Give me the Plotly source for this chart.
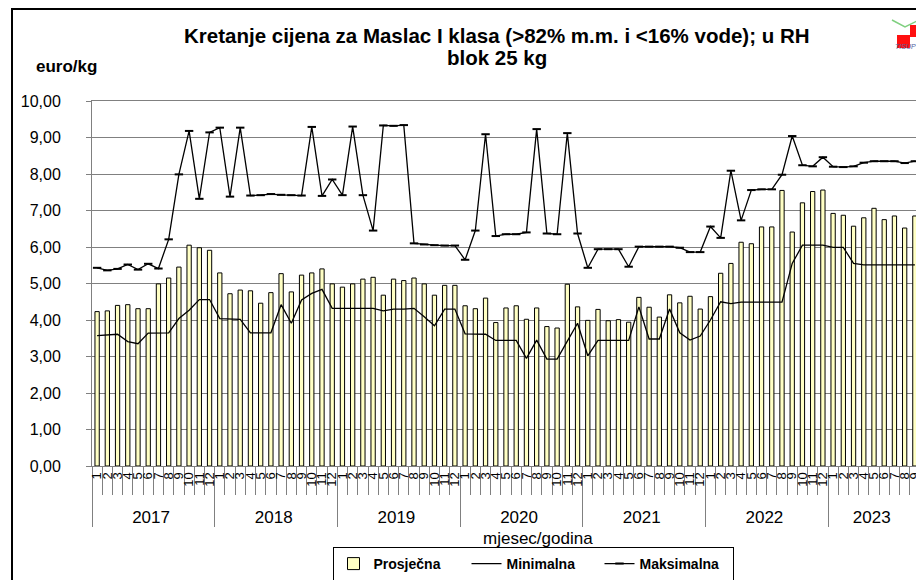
import plotly.graph_objects as go

years = ["2017"] * 12 + ["2018"] * 12 + ["2019"] * 12 + ["2020"] * 12 + ["2021"] * 12 + ["2022"] * 12 + ["2023"] * 9
months = [str(m) for m in range(1, 13)] * 6 + [str(m) for m in range(1, 10)]

prosjecna = [
    4.23, 4.25, 4.40, 4.42, 4.31, 4.31, 4.99, 5.15, 5.45, 6.05, 5.98, 5.91,
    5.29, 4.72, 4.82, 4.80, 4.46, 4.75, 5.27, 4.77, 5.23, 5.29, 5.40, 4.99,
    4.90, 4.99, 5.12, 5.17, 4.68, 5.12, 5.08, 5.15, 4.99, 4.68, 4.95, 4.95,
    4.39, 4.31, 4.60, 3.93, 4.33, 4.39, 4.02, 4.33, 3.82, 3.78, 4.98, 4.36,
    3.99, 4.29, 3.98, 4.01, 3.94, 4.62, 4.35, 4.08, 4.69, 4.47, 4.65, 4.30,
    4.64, 5.28, 5.55, 6.13, 6.09, 6.55, 6.55, 7.55, 6.41, 7.21, 7.52, 7.56,
    6.92, 6.87, 6.57, 6.80, 7.06, 6.75, 6.85, 6.52, 6.85,
]
minimalna = [
    3.57, 3.60, 3.61, 3.41, 3.35, 3.64, 3.64, 3.65, 4.04, 4.27, 4.56, 4.56,
    4.04, 4.04, 4.02, 3.65, 3.65, 3.65, 4.42, 3.91, 4.55, 4.73, 4.84, 4.32,
    4.32, 4.32, 4.32, 4.32, 4.25, 4.30, 4.30, 4.32, 4.09, 3.84, 4.30, 4.30,
    3.62, 3.62, 3.61, 3.44, 3.44, 3.44, 2.95, 3.45, 2.93, 2.93, 3.42, 3.91,
    3.02, 3.44, 3.44, 3.44, 3.44, 4.36, 3.48, 3.48, 4.30, 3.65, 3.45, 3.56,
    4.00, 4.50, 4.45, 4.49, 4.49, 4.49, 4.49, 4.49, 5.55, 6.05, 6.05, 6.05,
    5.99, 5.99, 5.55, 5.51, 5.51, 5.51, 5.51, 5.51, 5.51,
]
maksimalna = [
    5.43, 5.36, 5.40, 5.52, 5.38, 5.54, 5.41, 6.21, 7.99, 9.18, 7.32, 9.14,
    9.27, 7.38, 9.27, 7.41, 7.42, 7.45, 7.43, 7.42, 7.41, 9.29, 7.40, 7.85,
    7.42, 9.30, 7.42, 6.45, 9.33, 9.32, 9.34, 6.10, 6.07, 6.05, 6.04, 6.04,
    5.65, 6.45, 9.09, 6.30, 6.35, 6.35, 6.40, 9.23, 6.37, 6.35, 9.12, 6.37,
    5.43, 5.94, 5.94, 5.94, 5.46, 6.01, 6.01, 6.01, 6.01, 5.98, 5.86, 5.86,
    6.56, 6.25, 8.09, 6.73, 7.56, 7.58, 7.58, 7.98, 9.04, 8.24, 8.21, 8.46,
    8.20, 8.19, 8.21, 8.31, 8.35, 8.35, 8.35, 8.30, 8.35,
]

# labels for the two-level category axis (leading no-break spaces give the
# month row the depth it has in the original, pushing the year row down)
year_labels = ["<span style='font-size:17px'>%s</span>" % y for y in years]
month_labels = ["\u00a0\u00a0\u00a0" + m for m in months]
x = [year_labels, month_labels]

FONT = "Liberation Sans, Arial, sans-serif"

# page has an 8px body margin: figure coords = screenshot coords - 8
OFF = 8
L, R, T, B = 92 - OFF, 920 - OFF, 101 - OFF, 466 - OFF
W, H = 924, 580
def px(v):  # v in screenshot pixels
    return (v - OFF - L) / (R - L)
def py(v):
    return (B - (v - OFF)) / (B - T)

fig = go.Figure()
fig.add_trace(go.Bar(
    x=x, y=prosjecna, name="Prosječna",
    marker=dict(color="#FFFFC4", line=dict(color="black", width=1)),
))
fig.add_trace(go.Scatter(
    x=x, y=minimalna, name="Minimalna", mode="lines",
    line=dict(color="black", width=1.3),
))
fig.add_trace(go.Scatter(
    x=x, y=maksimalna, name="Maksimalna", mode="lines+markers",
    line=dict(color="black", width=1.3),
    marker=dict(symbol="line-ew", size=6, line=dict(color="black", width=2)),
))

shapes = [
    dict(type="rect", xref="paper", yref="paper", x0=px(12), y0=py(9), x1=px(960), y1=py(620),
         line=dict(color="black", width=2), fillcolor="rgba(0,0,0,0)", layer="above"),
    # logo approximation
    dict(type="rect", xref="paper", yref="paper", x0=px(910), y0=py(25), x1=px(924), y1=py(37),
         line=dict(width=0), fillcolor="#FF1010"),
    dict(type="rect", xref="paper", yref="paper", x0=px(897), y0=py(35), x1=px(910), y1=py(48),
         line=dict(width=0), fillcolor="#FF1010"),
    dict(type="path", xref="paper", yref="paper",
         path="M %f %f L %f %f L %f %f" % (px(892), py(20), px(905), py(27), px(923), py(18)),
         line=dict(color="#80D080", width=1.5)),
]

annotations = [
    dict(text="<b>Kretanje cijena za Maslac I klasa (>82% m.m. i <16% vode); u RH</b>",
         xref="paper", yref="paper", x=px(497), y=py(36), xanchor="center", yanchor="middle",
         showarrow=False, font=dict(family=FONT, size=20.5, color="black")),
    dict(text="<b>blok 25 kg</b>",
         xref="paper", yref="paper", x=px(497), y=py(58), xanchor="center", yanchor="middle",
         showarrow=False, font=dict(family=FONT, size=20.5, color="black")),
    dict(text="<b>euro/kg</b>", xref="paper", yref="paper", x=px(66), y=py(67),
         xanchor="center", yanchor="middle", showarrow=False,
         font=dict(family=FONT, size=17, color="black")),
    dict(text="mjesec/godina", xref="paper", yref="paper", x=px(538), y=py(538),
         xanchor="center", yanchor="middle", showarrow=False,
         font=dict(family=FONT, size=17, color="black")),
    dict(text="<i>TISUP</i>", xref="paper", yref="paper", x=px(893), y=py(46),
         xanchor="left", yanchor="middle", showarrow=False,
         font=dict(family=FONT, size=7, color="#5060A0")),
]

fig.update_layout(
    width=W, height=H,
    margin=dict(l=L, r=W - R, t=T, b=H - B, pad=0, autoexpand=False),
    paper_bgcolor="white", plot_bgcolor="white",
    separators=",.",
    font=dict(family=FONT, color="black"),
    bargap=0.58,
    showlegend=True,
    legend=dict(orientation="h", x=px(533), y=py(564), xanchor="center", yanchor="middle",
                bordercolor="black", borderwidth=1, bgcolor="white",
                font=dict(family=FONT, size=14, color="black", weight="bold"),
                itemwidth=30, tracegroupgap=0,
                entrywidth=88, entrywidthmode="pixels"),
    shapes=shapes,
    annotations=annotations,
)
fig.update_yaxes(
    range=[0, 10], dtick=1, tickformat=".2f",
    showgrid=True, gridcolor="#808080", gridwidth=1,
    showline=True, linecolor="#808080", linewidth=1, mirror=True,
    ticks="outside", ticklen=5, tickcolor="#808080",
    tickfont=dict(family=FONT, size=16, color="black"),
    ticklabelstandoff=22, zeroline=False, automargin=False,
)
fig.update_xaxes(
    type="multicategory",
    domain=[0, 1],
    range=[-0.5, 80.5], autorange=False,
    dtick=1,
    tickangle=-90,
    tickfont=dict(family=FONT, size=13, color="black"),
    showdividers=True, dividercolor="#808080", dividerwidth=1,
    ticks="outside", ticklen=28, tickcolor="#808080",
    showline=True, linecolor="#808080", linewidth=1, mirror=True,
    showgrid=False, automargin=False,
)

fig.write_html("out.html")
